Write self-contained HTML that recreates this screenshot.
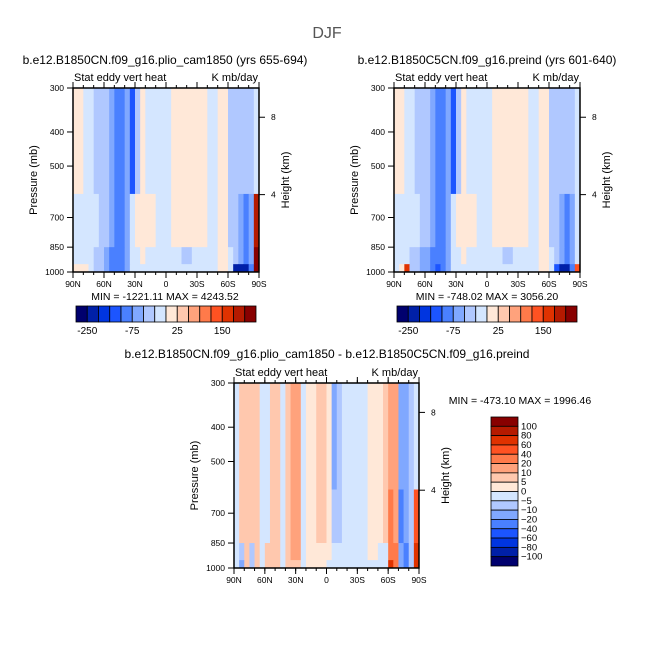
<!DOCTYPE html>
<html><head><meta charset="utf-8"><style>
body{margin:0;background:#fff}
svg{display:block;font-family:"Liberation Sans",sans-serif}
</style></head><body>
<svg id="s" width="654" height="654" xmlns="http://www.w3.org/2000/svg">
<text x="327" y="38" font-size="16" text-anchor="middle" fill="#555">DJF</text>
</svg>
<script>
// ---------- data ----------
const latTicks=["90N","60N","30N","0","30S","60S","90S"];
const pTicks=[300,400,500,700,850,1000];
const hTicks=[8,4];
const levelsA=[-250,-200,-150,-100,-75,-50,-25,0,25,50,75,100,150,200,250];
const levelsB=[-100,-80,-60,-40,-20,-10,-5,0,5,10,20,40,60,80,100];
const cbLabelsA=["-250","-75","25","150"];
const cbLabelsB=["100","80","60","40","20","10","5","0","-5","-10","-20","-40","-60","-80","-100"];
// 36 latitude columns (5 deg each, 90N -> 90S); layers: 300-600, 600-850, 850-950, 950-1000 mb
const p1Upper=[10,10,-10,-10,-30,-30,-30,-60,-90,-80,-60,-110,-30,10,-10,-10,-10,-10,-10,10,10,10,10,10,10,10,-10,-10,10,10,-30,-30,-30,-30,-30,-10];
const p1Mid=[-10,-10,-10,-10,-10,-30,-30,-60,-90,-80,-60,-10,10,10,10,10,-10,-10,-10,10,10,10,10,10,10,10,-10,-10,10,10,-30,-30,-60,-80,-60,200];
const p1Low=[-10,-10,-10,-10,-30,-30,-60,-80,-90,-80,-60,-10,-10,10,-10,-10,-10,-10,-10,-10,-10,-30,-30,-10,-10,-10,-10,-10,10,10,-10,-30,-60,-80,-60,250];
const p1Bot=[10,10,10,-10,-30,-30,-60,-80,-100,-100,-60,-10,-10,-10,-10,-10,-10,-10,-10,-10,-10,-10,-10,-10,-10,-10,-10,-10,10,10,-10,-250,-250,-250,-80,250];
const p2Upper=[10,10,-10,-10,-30,-30,-30,-60,-90,-80,-60,-150,-30,10,-10,-10,-10,-10,-10,10,10,10,10,10,10,10,-10,-10,10,10,-30,-30,-30,-30,-30,-10];
const p2Mid=[-10,-10,-10,-10,-10,-30,-30,-60,-90,-80,-60,-10,10,10,10,10,-10,-10,-10,10,10,10,10,10,10,10,-10,-10,10,10,-30,-30,-60,-80,-60,-10];
const p2Low=[-10,-10,-10,-30,-30,-60,-60,-80,-90,-80,-60,-10,-10,10,-10,-10,-10,-10,-10,-10,-10,-30,-30,-10,-10,-10,-10,-10,10,10,-10,-30,-60,-80,-60,-10];
const p2Bot=[-10,10,150,-30,-30,-60,-60,-100,-120,-100,-60,-10,-10,-10,-10,-10,-10,-10,-10,-10,-10,-10,-10,-10,-10,-10,-10,-10,10,10,-10,-150,-250,-250,-80,100];
const p3Upper=[-3,8,6,8,6,-3,-3,6,6,-3,8,15,12,-3,3,3,6,8,3,-12,-8,-3,-3,-3,-3,-3,3,3,3,8,15,12,-15,-12,-8,-3];
const p3Mid=[-3,8,6,8,6,-3,-3,6,6,-3,8,15,12,-3,3,3,6,6,3,-8,-6,-3,-3,-3,-3,-3,3,3,3,8,20,15,-25,-15,-8,40];
const p3Low=[-3,-8,8,-6,8,-3,6,8,6,-3,6,12,12,-3,3,3,3,3,3,-3,-3,-3,-3,-3,-3,-3,3,3,-3,-3,30,20,-15,-25,-8,60];
const p3Bot=[-3,-12,6,-8,6,-3,6,8,6,-3,6,8,8,-3,3,3,3,3,-3,-3,-3,-3,-3,-3,-3,-3,-3,-3,-3,-3,60,20,-20,-40,-8,60];
const colors=["#00006e","#0020a8","#0035e0","#1c55ff","#4a80ff","#80a8ff","#b0c8ff","#d4e6ff","#ffe8d8","#ffc8ae","#ffa27c","#ff7a4a","#ff5222","#e03200","#b51a00","#880000"];
const panelLayers=[[p1Upper,p1Mid,p1Low,p1Bot],[p2Upper,p2Mid,p2Low,p2Bot],[p3Upper,p3Mid,p3Low,p3Bot]];
const layerP=[300,600,850,950,1000];
// ---------- drawing ----------
const NS="http://www.w3.org/2000/svg";
const svg=document.getElementById('s');
function mk(tag,attrs,parent){const e=document.createElementNS(NS,tag);for(const k in attrs)e.setAttribute(k,attrs[k]);(parent||svg).appendChild(e);return e;}
function colorIdx(v,lv){let i=0;while(i<lv.length&&v>=lv[i])i++;return i;}
const panels=[
 {x:73,y:88,w:186,h:184,title:"b.e12.B1850CN.f09_g16.plio_cam1850 (yrs 655-694)",tx:165,ty:64,lv:levelsA,mm:"MIN = -1221.11   MAX = 4243.52",mmx:165,mmy:300},
 {x:394,y:88,w:186,h:184,title:"b.e12.B1850C5CN.f09_g16.preind (yrs 601-640)",tx:487,ty:64,lv:levelsA,mm:"MIN = -748.02   MAX = 3056.20",mmx:487,mmy:300},
 {x:234,y:383,w:185,h:185,title:"b.e12.B1850CN.f09_g16.plio_cam1850 - b.e12.B1850C5CN.f09_g16.preind",tx:327,ty:358,lv:levelsB,mm:"MIN = -473.10   MAX = 1996.46",mmx:520,mmy:404}
];
panels.forEach((P,pi)=>{
 const g=mk('g',{});
 
 
 const xs=lat=>P.x+P.w*(90-lat)/180;
 const ys=p=>P.y+P.h*(Math.log(p)-Math.log(300))/(Math.log(1000)-Math.log(300));
 const layers=panelLayers[pi];
 layers.forEach((arr,li)=>{
  arr.forEach((v,ci)=>{
   const x0=xs(90-ci*5),x1=xs(90-(ci+1)*5);
   const y0=ys(layerP[li]),y1=ys(layerP[li+1]);
   const r=mk('rect',{x:x0,y:y0,width:x1-x0+0.4,height:y1-y0+0.4,fill:colors[colorIdx(v,P.lv)]},g);
   
   
  });
 });
 mk('rect',{x:P.x,y:P.y,width:P.w,height:P.h,fill:'none',stroke:'#000','stroke-width':1.5},g);
 for(let lat=90;lat>=-90;lat-=10){const x=xs(lat);mk('line',{x1:x,x2:x,y1:P.y+P.h,y2:P.y+P.h+3,stroke:'#000'},g);mk('line',{x1:x,x2:x,y1:P.y,y2:P.y-3,stroke:'#000'},g);}
 latTicks.forEach((t,i)=>{const x=xs(90-30*i);mk('line',{x1:x,x2:x,y1:P.y+P.h,y2:P.y+P.h+6,stroke:'#000'},g);mk('line',{x1:x,x2:x,y1:P.y,y2:P.y-6,stroke:'#000'},g);
  const tt=mk('text',{x:x,y:P.y+P.h+15,'font-size':8.5,'text-anchor':'middle'},g);tt.textContent=t;
  });
 pTicks.forEach(p=>{const y=ys(p);mk('line',{x1:P.x-6,x2:P.x,y1:y,y2:y,stroke:'#000'},g);
  const tt=mk('text',{x:P.x-9,y:y+3,'font-size':8.5,'text-anchor':'end'},g);tt.textContent=p;
  });
 hTicks.forEach(h=>{const p=1000*Math.exp(-h/7.9);const y=ys(p);mk('line',{x1:P.x+P.w,x2:P.x+P.w+6,y1:y,y2:y,stroke:'#000'},g);
  const tt=mk('text',{x:P.x+P.w+12,y:y+3,'font-size':8.5},g);tt.textContent=h;
  });
 let t=mk('text',{x:P.tx,y:P.ty,'font-size':12,'text-anchor':'middle'},g);t.textContent=P.title;
 
 t=mk('text',{x:P.x+1,y:P.y-7,'font-size':11},g);t.textContent="Stat eddy vert heat";
 
 t=mk('text',{x:P.x+P.w-1,y:P.y-7,'font-size':11,'text-anchor':'end'},g);t.textContent="K mb/day";
 
 t=mk('text',{x:P.x-36,y:P.y+P.h/2,'font-size':11,'text-anchor':'middle',transform:`rotate(-90 ${P.x-36} ${P.y+P.h/2})`},g);t.textContent="Pressure (mb)";
 
 t=mk('text',{x:P.x+P.w+30,y:P.y+P.h/2,'font-size':11,'text-anchor':'middle',transform:`rotate(-90 ${P.x+P.w+30} ${P.y+P.h/2})`},g);t.textContent="Height (km)";
 
 t=mk('text',{x:P.mmx,y:P.mmy,'font-size':10.5,'text-anchor':'middle'},g);t.textContent=P.mm;
 
});
[[76,cbLabelsA],[397,cbLabelsA]].forEach(([cx,labs],bi)=>{
 const g=mk('g',{});
 
 
 const w=180/16;
 colors.forEach((c,i)=>{const r=mk('rect',{x:cx+i*w,y:306,width:w,height:16,fill:c,stroke:'#000','stroke-width':0.8},g);
  });
 labs.forEach((l,i)=>{const t=mk('text',{x:cx+w*(1+4*i),y:334,'font-size':10,'text-anchor':'middle'},g);t.textContent=l;
  });
});
{
 const g=mk('g',{});
 
 
 const top=417,h=149/16;
 colors.slice().reverse().forEach((c,i)=>{const r=mk('rect',{x:491,y:top+i*h,width:27,height:h,fill:c,stroke:'#000','stroke-width':0.8},g);
  });
 cbLabelsB.forEach((l,i)=>{const t=mk('text',{x:521,y:top+(i+1)*h+3,'font-size':9.5},g);t.textContent=l.replace('-','\u2212');
  });
}
</script>
</body></html>
